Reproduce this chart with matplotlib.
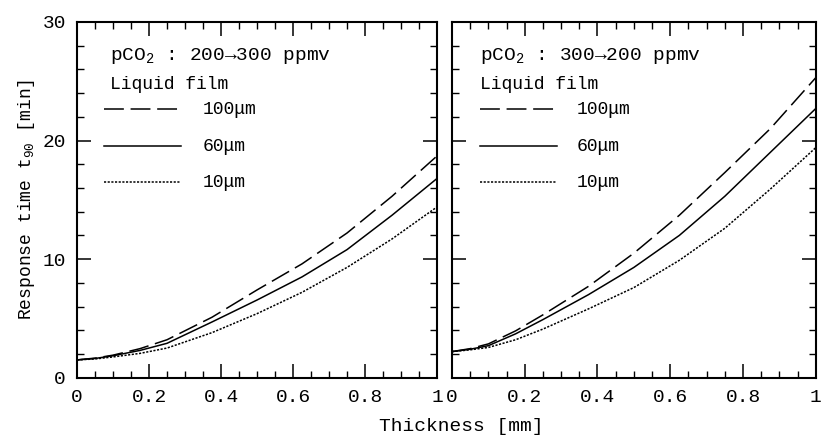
import matplotlib
matplotlib.use("Agg")
import matplotlib.pyplot as plt
from matplotlib.ticker import MultipleLocator, FuncFormatter

plt.rcParams['font.family'] = ['Liberation Mono', 'DejaVu Sans Mono']
plt.rcParams['mathtext.default'] = 'regular'

# Datos
thickness = [0, 0.05, 0.1, 0.175, 0.25, 0.375, 0.5, 0.625, 0.75, 0.875, 1.0]

# pCO2 200 -> 300 ppmv
left_100 = [1.5, 1.65, 1.9, 2.45, 3.2, 5.1, 7.4, 9.6, 12.2, 15.3, 18.7]
left_60 = [1.5, 1.62, 1.85, 2.3, 2.9, 4.7, 6.55, 8.5, 10.8, 13.7, 16.8]
left_10 = [1.5, 1.58, 1.75, 2.05, 2.5, 3.8, 5.4, 7.2, 9.3, 11.7, 14.4]

# pCO2 300 -> 200 ppmv
right_100 = [2.2, 2.45, 2.85, 3.95, 5.3, 7.7, 10.5, 13.7, 17.3, 21.0, 25.3]
right_60 = [2.2, 2.4, 2.7, 3.7, 4.9, 7.0, 9.3, 12.0, 15.3, 19.0, 22.7]
right_10 = [2.2, 2.35, 2.55, 3.2, 4.1, 5.8, 7.6, 9.9, 12.6, 15.9, 19.4]

film_labels = ['100\u03bcm', '60\u03bcm', '10\u03bcm']
titles = ['pCO$_2$ : 200\u2192300 ppmv', 'pCO$_2$ : 300\u2192200 ppmv']
styles = [(0, (13, 4.4)), '-', (0, (1.4, 1.0))]

fig = plt.figure(figsize=(8.23, 4.42), dpi=100)
ax1 = fig.add_axes([0.0936, 0.1455, 0.4374, 0.8048])
ax2 = fig.add_axes([0.5492, 0.1455, 0.4420, 0.8048])


def fmt(v, pos):
    if abs(v - round(v)) < 1e-9:
        return '%d' % round(v)
    return '%.1f' % v


# texto: x del titulo, x de las lineas, fin de linea, x de etiquetas
panels = [(ax1, [left_100, left_60, left_10], titles[0], 0.092, 0.075, 0.29, 0.35),
          (ax2, [right_100, right_60, right_10], titles[1], 0.076, 0.076, 0.29, 0.343)]

for ax, series, title, tx, lx0, lx1, labx in panels:
    for ys, ls in zip(series, styles):
        ax.plot(thickness, ys, color='black', linestyle=ls, linewidth=1.1)
    ax.set_xlim(0, 1)
    ax.set_ylim(0, 30)
    ax.xaxis.set_major_locator(MultipleLocator(0.2))
    ax.xaxis.set_minor_locator(MultipleLocator(0.05))
    ax.yaxis.set_major_locator(MultipleLocator(10))
    ax.yaxis.set_minor_locator(MultipleLocator(2))
    ax.xaxis.set_major_formatter(FuncFormatter(fmt))
    ax.tick_params(which='both', direction='in', top=True, right=True)
    ax.tick_params(which='major', length=10, width=1.1, labelsize=14, pad=8)
    ax.tick_params(which='minor', length=5, width=1.0)
    for sp in ax.spines.values():
        sp.set_linewidth(1.5)

    # leyenda dibujada a mano
    ax.text(tx, 0.905, title, transform=ax.transAxes, fontsize=14,
            ha='left', va='center')
    ax.text(tx, 0.823, 'Liquid film', transform=ax.transAxes, fontsize=13,
            ha='left', va='center')
    for yy, ls, lab in zip([0.755, 0.651, 0.55], styles, film_labels):
        ax.plot([lx0, lx1], [yy, yy], color='black', linestyle=ls,
                linewidth=1.1, transform=ax.transAxes)
        ax.text(labx, yy, lab, transform=ax.transAxes, fontsize=13,
                ha='left', va='center')

ax2.set_yticklabels([])
ax1.set_ylabel('Response time t$_{90}$ [min]', fontsize=13, labelpad=4)
fig.text(0.56, 0.035, 'Thickness [mm]', fontsize=14, ha='center', va='center')

fig.savefig('out.png', dpi=100)
